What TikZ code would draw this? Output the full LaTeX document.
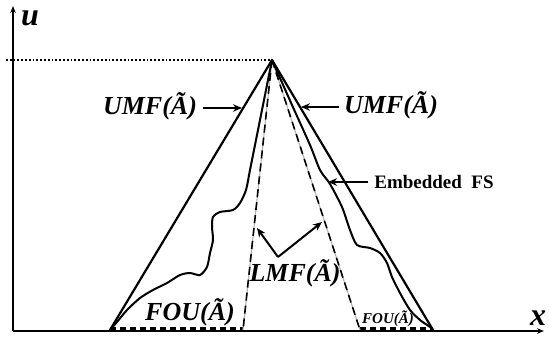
\documentclass[tikz,border=0pt]{standalone}
\usepackage{fontspec}
\setmainfont{Liberation Serif}
\usetikzlibrary{arrows.meta}
\begin{document}
\begin{tikzpicture}[x=1pt,y=-1pt,
  lab/.style={font=\bfseries\itshape\fontsize{26}{26}\selectfont, inner sep=0pt},
  axislab/.style={font=\bfseries\itshape\fontsize{32}{32}\selectfont, inner sep=0pt, anchor=base},
  arr/.style={line width=2pt, -{Stealth[length=9pt,width=7.5pt]}},
  axis/.style={line width=2pt, -{Stealth[length=7pt,width=5.5pt]}},
  umf/.style={line width=2.2pt, line join=round},
  wig/.style={line width=2pt, line join=round},
  lmfgray/.style={line width=1.1pt, gray!60},
  lmfdash/.style={line width=1.6pt, dash pattern=on 8pt off 5pt},
  basedash/.style={line width=3.2pt, dash pattern=on 6pt off 4pt}]
\useasboundingbox (0,0) rectangle (549,340);

% key points
\coordinate (O) at (13,331);
\coordinate (ytop) at (13,6);
\coordinate (xend) at (544,331);
\coordinate (peak) at (272,60);
\coordinate (dotL) at (6,60);
\coordinate (UL) at (110,330);
\coordinate (UR) at (433,330);
\coordinate (LL) at (243,330);
\coordinate (LR) at (360,330);

% axes
\draw[axis] (O) -- (ytop);
\draw[axis] (O) -- (xend);
\draw[line width=1.8pt, dotted] (dotL) -- (peak);

% base dashes (FOU on x-axis)
\draw[basedash] ([yshift=1.5pt]UL) -- ([yshift=1.5pt]LL);
\draw[basedash] ([yshift=1.5pt]LR) -- ([yshift=1.5pt]UR);

% LMF
\draw[lmfgray] (LL) -- (peak) -- (LR);
\draw[lmfdash] (peak) -- (LL);
\draw[lmfdash] (peak) -- (LR);

% UMF
\draw[umf] (UL) -- (peak) -- (UR);

% embedded FS curves
\draw[wig] plot[smooth, tension=0.45] coordinates {
 (272,60) (264,100) (256,140) (250,170) (246,190) (240,203) (233,210)
 (220,212) (213,217) (212,227) (213,240) (210,253) (207,267) (200,275)
 (190,273) (180,275) (167,283) (153,290) (140,298) (127,310) (117,322) (110,330)};
\draw[wig] plot[smooth, tension=0.45] coordinates {
 (272,60) (292,105) (310,145) (320,170) (330,184) (342,207) (350,230)
 (357,245) (370,248) (380,253) (387,263) (392,277) (400,293) (410,310)
 (420,320) (430,327) (433,330)};

% labels
\node[axislab] (u) at (30,25) {u};
\node[axislab] (x) at (538,325) {x};
\node[lab] (umfl) at (150,106) {UMF(Ã)};
\node[lab] (umfr) at (391,105) {UMF(Ã)};
\node[lab] (lmf) at (295,273) {LMF(Ã)};
\node[lab] (foul) at (190,312) {FOU(Ã)};
\node[font=\bfseries\itshape\fontsize{15}{15}\selectfont, inner sep=0pt] (four) at (388,319) {FOU(Ã)};
\node[font=\bfseries\fontsize{19}{19}\selectfont, inner sep=0pt] (emb) at (434,182) {Embedded\ \ FS};

% arrows
\coordinate (aL1) at (203,108);
\coordinate (aL2) at (242,108);
\coordinate (aR1) at (339,107);
\coordinate (aR2) at (301,107);
\coordinate (aE1) at (368,182);
\coordinate (aE2) at (328,182);
\coordinate (aM) at (278,257);
\coordinate (aM1) at (257,228);
\coordinate (aM2) at (322,222);
\draw[arr] (aL1) -- (aL2);
\draw[arr] (aR1) -- (aR2);
\draw[arr] (aE1) -- (aE2);
\draw[arr] (aM) -- (aM1);
\draw[arr] (aM) -- (aM2);
\end{tikzpicture}
\end{document}
